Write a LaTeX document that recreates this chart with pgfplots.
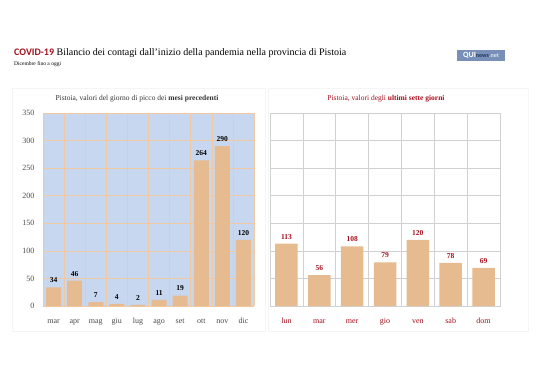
\documentclass[border=0pt]{standalone}
\usepackage{pgfplots}
\pgfplotsset{compat=1.18}
\usepackage{fontspec}
\setmainfont{Liberation Serif}
\newfontfamily\carlito{Carlito}
\definecolor{barc}{HTML}{E6BB90}
\definecolor{bgblue}{HTML}{C8D7F0}
\definecolor{gridtan}{HTML}{F0C9A2}
\definecolor{darkred}{HTML}{A50F1C}
\definecolor{logoblue}{HTML}{7890B8}
\definecolor{logodark}{HTML}{1F3560}
\begin{document}
\begin{tikzpicture}[x=1pt,y=1pt]
\path[fill=white,use as bounding box] (0,0) rectangle (538,-380);
\draw[black!4] (12,-88) rectangle (265,-331);
\draw[black!4] (268,-88) rectangle (528,-331);
\node[anchor=base west, inner sep=0, font=\fontsize{10}{12}\selectfont] at (14,-55)
  {{\carlito\bfseries\color{darkred}COVID-19} Bilancio dei contagi dall'inizio della pandemia nella provincia di Pistoia};
\node[anchor=base west, inner sep=0, font=\fontsize{5.5}{6}\selectfont] at (14,-65) {Dicembre fino a oggi};
\node[fill=logoblue, inner sep=1pt, minimum width=48pt, minimum height=11pt, font=\carlito\bfseries\fontsize{8}{9}\selectfont] at (481,-55)
  {\textcolor{white}{QUI}\textcolor{logodark}{\fontsize{6}{7}\selectfont news}\textcolor{white!75!logoblue}{\fontsize{6}{7}\selectfont .net}};
\node[font=\fontsize{7.5}{9}\selectfont, text=black!80] at (137,-99) {Pistoia, valori del giorno di picco dei \textbf{mesi precedenti}};
\node[font=\fontsize{7.5}{9}\selectfont, text=darkred] at (386,-99) {Pistoia, valori degli \textbf{ultimi sette giorni}};

\begin{axis}[at={(43pt,-306pt)}, anchor=south west, scale only axis,
  width=211pt, height=193pt,
  ymin=0, ymax=350, ytick={0,50,...,350},
  xmin=-0.5, xmax=9.5, xtick={0,...,9},
  xticklabels={mar,apr,mag,giu,lug,ago,set,ott,nov,dic},
  minor xtick={-0.5,0.5,...,9.5},
  ymajorgrids, xminorgrids,
  grid style={gridtan, line width=0.6pt}, minor grid style={gridtan, line width=0.6pt},
  axis background/.style={fill=bgblue},
  axis line style={draw=none},
  tick style={draw=none}, minor tick length=0pt,
  /pgf/number format/assume math mode=true,
  ticklabel style={font=\fontsize{8}{9}\selectfont, text=black!70},
  yticklabel style={xshift=-5pt},
  xticklabel style={yshift=-2pt, text height=1.6ex, text depth=0.3ex},
  ybar, bar width=15pt,
  nodes near coords,
  nodes near coords style={font=\bfseries\fontsize{7.5}{8}\selectfont, text=black, yshift=1pt},
]
\addplot[fill=barc, draw=none] coordinates {(0,34) (1,46) (2,7) (3,4) (4,2) (5,11) (6,19) (7,264) (8,290) (9,120)};
\end{axis}

\begin{axis}[at={(270pt,-306pt)}, anchor=south west, scale only axis,
  width=230pt, height=193pt,
  ymin=0, ymax=350, ytick={0,50,...,350}, yticklabels={},
  xmin=-0.5, xmax=6.5, xtick={0,...,6},
  xticklabels={lun,mar,mer,gio,ven,sab,dom},
  minor xtick={-0.5,0.5,...,6.5},
  ymajorgrids, xminorgrids,
  grid style={black!18, line width=0.6pt}, minor grid style={black!18, line width=0.6pt},
  axis line style={black!18, line width=0.6pt},
  tick style={draw=none}, minor tick length=0pt,
  /pgf/number format/assume math mode=true,
  ticklabel style={font=\fontsize{8}{9}\selectfont, text=darkred},
  xticklabel style={yshift=-2pt, text height=1.6ex, text depth=0.3ex},
  ybar, bar width=22.5pt,
  nodes near coords,
  nodes near coords style={font=\bfseries\fontsize{7.5}{8}\selectfont, text=darkred, yshift=1pt},
]
\addplot[fill=barc, draw=none] coordinates {(0,113) (1,56) (2,108) (3,79) (4,120) (5,78) (6,69)};
\end{axis}
\end{tikzpicture}
\end{document}
